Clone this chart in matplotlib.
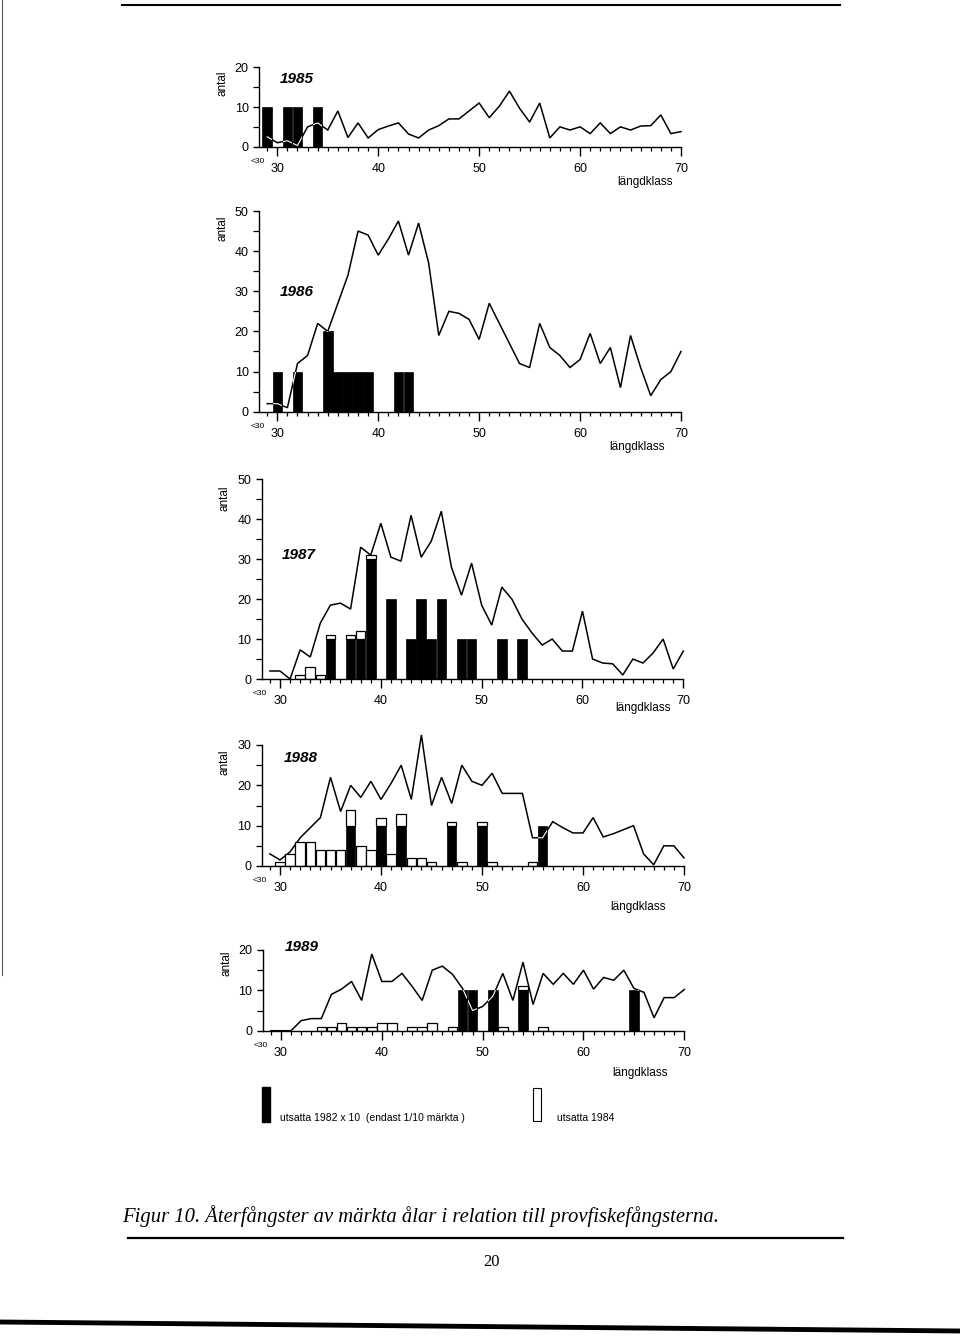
import matplotlib
matplotlib.use('Agg')
import matplotlib.pyplot as plt
from matplotlib.patches import Rectangle, PathPatch
from matplotlib.path import Path
from matplotlib.lines import Line2D
from matplotlib.ticker import FixedLocator, MultipleLocator

plt.rcParams['font.family'] = ['Liberation Sans', 'DejaVu Sans']

# ---------------- data ----------------
classes = list(range(29, 71))          # 29 = "<30" class
x_major = [30, 40, 50, 60, 70]
x_major_labels = ['30', '40', '50', '60', '70']

line_1985 = [2.5, 1.0, 1.5, 0.3, 5.0, 6.0, 4.2, 9.0, 2.3, 6.0, 2.2, 4.3, 5.2, 6.0,
             3.2, 2.2, 4.2, 5.3, 7.0, 7.0, 9.0, 11.0, 7.3, 10.2, 14.0, 9.7, 6.2,
             11.0, 2.2, 5.0, 4.2, 5.0, 3.3, 6.0, 3.3, 5.0, 4.2, 5.2, 5.3, 8.0, 3.3, 3.8]
line_1986 = [2, 2, 1, 12, 14, 22, 20, 27, 34, 45, 44, 39, 43, 47.5, 39, 47, 37, 19,
             25, 24.5, 23, 18, 27, 22, 17, 12, 11, 22, 16, 14, 11, 13, 19.5, 12, 16,
             6, 19, 11, 4, 8, 10, 15]
line_1987 = [2, 2, 0, 7.3, 5.5, 14, 18.5, 19, 17.5, 33, 31, 39, 30.5, 29.5, 41, 30.5,
             34.5, 42, 28, 21, 29, 18.5, 13.5, 23, 20, 15, 11.5, 8.5, 10, 7, 7, 17, 5,
             4, 3.8, 1, 5, 4, 6.5, 10, 2.5, 7]
line_1988 = [3, 1.5, 3.5, 7, 9.5, 12, 22, 13.5, 20, 17, 21, 16.5, 20.5, 25, 16.5,
             32.5, 15, 22, 15.5, 25, 21, 20, 23, 18, 18, 18, 7, 7, 11, 9.5, 8.2, 8.2,
             12, 7.2, 8, 9, 10, 3, 0.3, 5, 5, 2]
line_1989 = [0, 0, 0, 2.5, 3, 3, 9, 10.3, 12.2, 7.5, 19, 12.2, 12.2, 14.2, 11, 7.5,
             15, 16, 14, 10.5, 5, 6, 8.5, 14.2, 7.5, 17, 6.5, 14.2, 11.5, 14.2, 11.5,
             15, 10.3, 13.2, 12.5, 15, 10.5, 9.5, 3.2, 8.2, 8.2, 10.2]

# recaptures, released 1982 (x10) -> black ; released 1984 -> white
black_1985_x = [29, 31, 32, 34]
black_1985_v = [10, 10, 10, 10]
white_1985_x, white_1985_v = [], []

black_1986_x = [30, 32, 35, 36, 37, 38, 39, 42, 43]
black_1986_v = [10, 10, 20, 10, 10, 10, 10, 10, 10]
white_1986_x, white_1986_v = [], []

black_1987_x = [35, 37, 38, 39, 41, 43, 44, 45, 46, 48, 49, 52, 54]
black_1987_v = [10, 10, 10, 30, 20, 10, 20, 10, 20, 10, 10, 10, 10]
white_1987_x = [32, 33, 34, 35, 37, 38, 39]
white_1987_v = [1, 3, 1, 1, 1, 2, 1]

black_1988_x = [37, 40, 42, 47, 50, 56]
black_1988_v = [10, 10, 10, 10, 10, 10]
white_1988_x = [30, 31, 32, 33, 34, 35, 36, 37, 38, 39, 40, 41, 42, 43, 44, 45, 47, 48, 50, 51, 55]
white_1988_v = [1, 3, 6, 6, 4, 4, 4, 4, 5, 4, 2, 3, 3, 2, 2, 1, 1, 1, 1, 1, 1]

black_1989_x = [48, 49, 51, 54, 65]
black_1989_v = [10, 10, 10, 10, 10]
white_1989_x = [34, 35, 36, 37, 38, 39, 40, 41, 43, 44, 45, 47, 52, 54, 56]
white_1989_v = [1, 1, 2, 1, 1, 1, 2, 2, 1, 1, 2, 1, 1, 1, 1]

years = ['1985', '1986', '1987', '1988', '1989']
y_max = [20, 50, 50, 30, 20]

# ---------------- layout helpers ----------------
W, H = 960, 1339
fig = plt.figure(figsize=(9.6, 13.39), dpi=100)


def fx(px):
    return px / W


def fy(py):
    return 1 - py / H


# pixel geometry of each panel: x=30 px, x=70 px, y=0 px, y=top px
geom = [
    (277.3, 681.0, 146.7, 67.3),
    (277.3, 681.0, 411.7, 211.0),
    (280.0, 683.3, 679.0, 479.3),
    (280.0, 684.0, 866.0, 745.0),
    (281.0, 684.3, 1030.7, 950.0),
]
XMIN = 28.2
year_pos = [(297, 79), (297, 292), (299, 555), (301, 758), (302, 947)]
antal_pos = [(223, 83), (223, 228), (225, 498), (225, 762), (226, 963)]
lang_pos = [(645, 182), (637, 447), (643, 708), (638, 907), (640, 1073)]

lines = [line_1985, line_1986, line_1987, line_1988, line_1989]
blacks = [(black_1985_x, black_1985_v), (black_1986_x, black_1986_v),
          (black_1987_x, black_1987_v), (black_1988_x, black_1988_v),
          (black_1989_x, black_1989_v)]
whites = [(white_1985_x, white_1985_v), (white_1986_x, white_1986_v),
          (white_1987_x, white_1987_v), (white_1988_x, white_1988_v),
          (white_1989_x, white_1989_v)]

BW = 0.95
for i in range(5):
    p30, p70, p0, ptop = geom[i]
    scale = (p70 - p30) / 40.0
    left_px = p30 - (30 - XMIN) * scale
    ax = fig.add_axes([fx(left_px), fy(p0), (p70 - left_px) / W, (p0 - ptop) / H])
    ax.set_xlim(XMIN, 70)
    ax.set_ylim(0, y_max[i])
    ax.patch.set_alpha(0)
    for s in ['top', 'right']:
        ax.spines[s].set_visible(False)
    for s in ['left', 'bottom']:
        ax.spines[s].set_linewidth(1.0)
    ax.spines['bottom'].set_bounds(XMIN, 70)

    # fishing catch line
    ax.plot(classes, lines[i], color='black', lw=1.1, zorder=1,
            solid_joinstyle='miter', clip_on=False)

    bx, bv = blacks[i]
    wx, wv = whites[i]
    bdict = dict(zip(bx, bv))
    ax.bar(bx, bv, width=BW, color='black', edgecolor='black', lw=0.5, zorder=2)
    if wx:
        bottoms = [bdict.get(x, 0) for x in wx]
        ax.bar(wx, wv, bottom=bottoms, width=BW, color='white',
               edgecolor='black', lw=0.9, zorder=2)

    # line shows as white where it crosses black bars
    rects = [Path([(x - BW / 2, 0), (x + BW / 2, 0), (x + BW / 2, v),
                   (x - BW / 2, v), (x - BW / 2, 0)],
                  [Path.MOVETO, Path.LINETO, Path.LINETO, Path.LINETO, Path.CLOSEPOLY])
             for x, v in zip(bx, bv)]
    cpath = Path.make_compound_path(*rects)
    cpatch = PathPatch(cpath, transform=ax.transData, facecolor='none', edgecolor='none')
    ax.add_patch(cpatch)
    wl, = ax.plot(classes, lines[i], color='white', lw=0.8, zorder=3)
    wl.set_clip_path(cpatch)

    # ticks
    ax.xaxis.set_major_locator(FixedLocator(x_major))
    ax.set_xticklabels(x_major_labels)
    ax.xaxis.set_minor_locator(FixedLocator(classes))
    ax.yaxis.set_major_locator(MultipleLocator(10))
    ax.yaxis.set_minor_locator(MultipleLocator(5))
    ax.tick_params(axis='x', which='major', direction='out', length=6.5, width=1.0,
                   pad=5, labelsize=9)
    ax.tick_params(axis='x', which='minor', direction='out', length=3, width=0.9)
    ax.tick_params(axis='y', which='major', direction='out', length=4.5, width=1.0,
                   pad=3, labelsize=9)
    ax.tick_params(axis='y', which='minor', direction='out', length=4.5, width=0.9)

    ax.annotate('<30', xy=(29, 0), xycoords='data', xytext=(-7, -10.5),
                textcoords='offset points', fontsize=6, ha='center', va='center')

    fig.text(fx(year_pos[i][0]), fy(year_pos[i][1]), years[i], fontsize=11,
             fontweight='bold', style='italic', ha='center', va='center')
    fig.text(fx(antal_pos[i][0]), fy(antal_pos[i][1]), 'antal', fontsize=8.5,
             rotation=90, ha='center', va='center')
    fig.text(fx(lang_pos[i][0]), fy(lang_pos[i][1]), 'längdklass', fontsize=8.5,
             ha='center', va='center')

# ---------------- legend ----------------
fig.add_artist(Rectangle((fx(262), fy(1122)), 8 / W, 35 / H, transform=fig.transFigure,
                         facecolor='black', edgecolor='black'))
fig.add_artist(Rectangle((fx(533), fy(1121)), 8 / W, 33 / H, transform=fig.transFigure,
                         facecolor='white', edgecolor='black', lw=0.8))
fig.text(fx(280), fy(1118), 'utsatta 1982 x 10  (endast 1/10 märkta )', fontsize=7.5,
         ha='left', va='center')
fig.text(fx(557), fy(1118), 'utsatta 1984', fontsize=7.5, ha='left', va='center')

# ---------------- page decorations ----------------
fig.add_artist(Line2D([fx(122), fx(840)], [fy(5), fy(5)], lw=1.5, color='black'))
fig.add_artist(Line2D([fx(2), fx(2)], [fy(0), fy(975)], lw=0.8, color='#555555'))
fig.add_artist(Line2D([fx(128), fx(843)], [fy(1238), fy(1238)], lw=1.6, color='black'))
fig.add_artist(Line2D([fx(0), fx(960)], [fy(1322), fy(1331)], lw=3.5, color='black'))
fig.text(fx(122), fy(1216),
         'Figur 10. Återfångster av märkta ålar i relation till provfiskefångsterna.',
         fontsize=14.9, style='italic', family=['Liberation Serif', 'DejaVu Serif'],
         ha='left', va='center')
fig.text(fx(492), fy(1262), '20', fontsize=12, family=['Liberation Serif', 'DejaVu Serif'],
         ha='center', va='center')

fig.savefig('out.png', dpi=100)
